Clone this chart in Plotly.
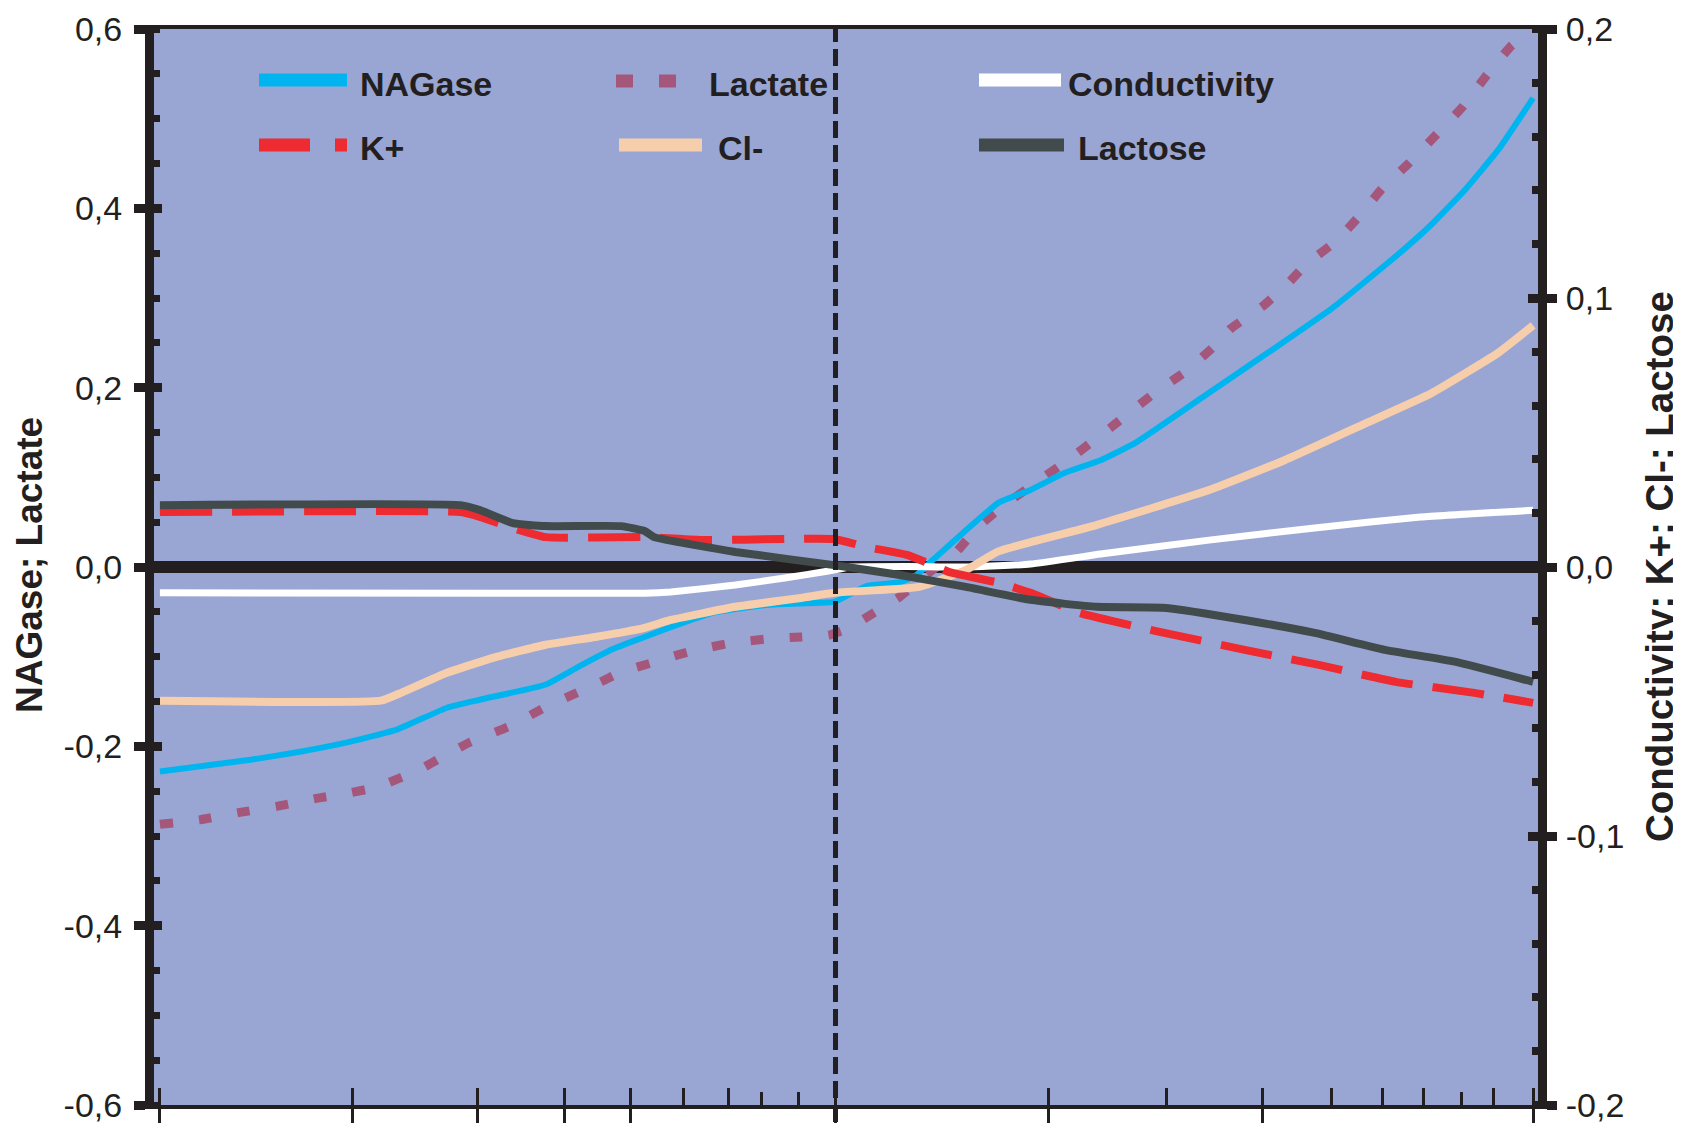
import plotly.graph_objects as go

# ---------------- data ----------------
# x position along the (unlabelled) horizontal axis, 0..100
nag_x = [0, 6.6, 10.2, 13.8, 17.3, 20.9, 23.3, 28.1, 30.5, 32.9, 35.3, 37.2, 40.3, 44.4, 48.0,
         49.1, 51.5, 53.9, 55.1, 56.3, 58.7, 61.1, 63.4, 65.9, 68.5, 71.1, 75.9, 80.6, 85.4,
         90.2, 92.6, 95.0, 97.5, 100]
nag_y = [-0.228, -0.215, -0.206, -0.195, -0.181, -0.157, -0.148, -0.131, -0.111, -0.092, -0.078,
         -0.067, -0.051, -0.042, -0.040, -0.039, -0.021, -0.017, -0.009, 0.008, 0.041, 0.072,
         0.086, 0.105, 0.119, 0.139, 0.189, 0.238, 0.289, 0.349, 0.382, 0.420, 0.466, 0.523]

lac_x = [0, 2.9, 5.7, 8.5, 11.4, 13.8, 15.9, 18.9, 20.9, 22.5, 25.4, 28.0, 30.4, 32.4, 33.6,
         36.0, 38.4, 41.5, 44.4, 46.7, 48.7, 50.2, 52.0, 53.9, 55.6, 58.0, 59.6, 61.3, 63.7,
         66.1, 69.2, 71.0, 72.5, 74.6, 76.7, 78.0, 80.4, 82.2, 83.5, 85.7, 87.5, 89.0, 91.0,
         93.0, 94.8, 96.6, 98.4, 100]
lac_y = [-0.287, -0.282, -0.274, -0.267, -0.258, -0.252, -0.245, -0.226, -0.209, -0.196, -0.178,
         -0.157, -0.140, -0.126, -0.117, -0.106, -0.095, -0.085, -0.080, -0.078, -0.076, -0.068,
         -0.051, -0.033, -0.011, 0.017, 0.045, 0.067, 0.093, 0.119, 0.155, 0.177, 0.195, 0.217,
         0.245, 0.266, 0.292, 0.317, 0.338, 0.364, 0.394, 0.422, 0.451, 0.483, 0.512, 0.548,
         0.581, 0.600]

con_x = [0, 35.3, 37.2, 41.9, 45.5, 48.7, 50.3, 54.4, 58.7, 63.4, 68.5, 76.4, 84.1, 91.8, 100]
con_y = [-0.0096, -0.0098, -0.0093, -0.0067, -0.0041, -0.0015, 0.0, 0.0002, 0.0, 0.0011,
         0.0048, 0.0100, 0.0145, 0.0186, 0.0211]

cl_x = [0, 16.1, 17.6, 20.9, 24.5, 28.1, 31.7, 35.3, 37.2, 41.9, 46.7, 49.1, 55.3, 58.7, 61.1,
        68.2, 76.4, 81.9, 87.8, 92.6, 97.4, 100]
cl_y = [-0.0497, -0.0497, -0.0467, -0.0393, -0.0334, -0.0289, -0.0260, -0.0226, -0.0197,
        -0.0148, -0.0115, -0.0096, -0.0074, -0.0011, 0.0059, 0.0156, 0.0286, 0.0397, 0.0534,
        0.0646, 0.0794, 0.0898]

k_x = [0, 21.9, 23.3, 25.7, 28.1, 35.3, 39.6, 45.5, 49.1, 51.5, 54.4, 56.3, 57.5, 61.1, 63.4,
       67.0, 72.8, 79.0, 84.4, 90.0, 95.6, 100]
k_y = [0.0204, 0.0204, 0.0186, 0.0145, 0.0111, 0.0111, 0.0100, 0.0104, 0.0104, 0.0074, 0.0045,
       0.0007, -0.0019, -0.0059, -0.0096, -0.0171, -0.0241, -0.0308, -0.0364, -0.0427, -0.0467,
       -0.0505]

lcs_x = [0, 21.9, 23.3, 25.7, 28.1, 33.6, 35.3, 36.0, 41.9, 49.1, 53.9, 58.7, 63.4, 68.2, 73.3,
         79.0, 84.1, 89.2, 94.3, 100]
lcs_y = [0.0230, 0.0230, 0.0212, 0.0163, 0.0152, 0.0152, 0.0134, 0.0111, 0.0056, 0.0007,
         -0.0030, -0.0074, -0.0122, -0.0148, -0.0152, -0.0197, -0.0245, -0.0308, -0.0352, -0.0427]

# axis ticks
left_tickvals = [-0.6, -0.4, -0.2, 0.0, 0.2, 0.4, 0.6]
left_ticktext = ["-0,6", "-0,4", "-0,2", "0,0", "0,2", "0,4", "0,6"]
right_tickvals = [-0.2, -0.1, 0.0, 0.1, 0.2]
right_ticktext = ["-0,2", "-0,1", "0,0", "0,1", "0,2"]
x_major = [0, 14.0, 23.1, 29.5, 34.3, 49.2, 64.7, 80.3, 100]
x_long = [38.1, 41.4, 73.3, 85.3, 89.0, 92.0, 97.1]
x_short = [43.8, 46.5, 94.8]
ref_x = 49.2

series_names = ["NAGase", "Lactate", "Conductivity", "K+", "Cl-", "Lactose"]
left_title = "NAGase; Lactate"
right_title = "Conductivity; K+; Cl-; Lactose"

# ---------------- style / layout ----------------
OFF = 8                      # default body margin of the html page
W, H = 1681 - OFF, 1127 - OFF
# plot area in page pixels (inside the axis lines)
PL, PR, PT, PB = 154, 1538, 29, 1105
L, R, T, B = PL - OFF, PR - OFF, PT - OFF, PB - OFF
# x = 0 and x = 100 sit under the thick vertical axis lines
X0_PX, X100_PX = 148, 1543
ppu = (X100_PX - X0_PX) / 100.0
x_range = [-(PL - X0_PX) / ppu, 100 + (X100_PX - PR) / ppu]

AX = "#231F20"
BG = "#99A6D4"
C_NAG, C_LAC, C_CON = "#00B5EF", "#A5577B", "#FFFFFF"
C_K, C_CL, C_LCS = "#ED2B30", "#F6CEAB", "#424B4B"
SANS = "Liberation Sans, Arial, sans-serif"


def xp(px):
    return (px - PL) / (PR - PL)


def yp(py):
    return (PB - py) / (PB - PT)


fig = go.Figure()


def add(x, y, name, color, width, dash, axis):
    fig.add_trace(go.Scatter(x=x, y=y, name=name, mode="lines", yaxis=axis,
                             line=dict(color=color, width=width, dash=dash,
                                       shape="spline", smoothing=0.4),
                             showlegend=False, hoverinfo="skip"))


add(lac_x, lac_y, series_names[1], C_LAC, 9, "13px,26px", "y")
add(nag_x, nag_y, series_names[0], C_NAG, 6, "solid", "y")
add(con_x, con_y, series_names[2], C_CON, 7, "solid", "y2")
add(cl_x, cl_y, series_names[4], C_CL, 8, "solid", "y2")
add(k_x, k_y, series_names[3], C_K, 8, "52px,20px", "y2")
add(lcs_x, lcs_y, series_names[5], C_LCS, 8, "solid", "y2")

# invisible carriers so that the tick-only overlay axes are drawn
fig.add_trace(go.Scatter(x=[ref_x], y=[0], xaxis="x2", yaxis="y3", mode="markers",
                         marker=dict(opacity=0), showlegend=False, hoverinfo="skip"))
fig.add_trace(go.Scatter(x=[ref_x], y=[0], xaxis="x", yaxis="y4", mode="markers",
                         marker=dict(opacity=0), showlegend=False, hoverinfo="skip"))

tickfont = dict(family=SANS, size=34, color=AX)

fig.update_layout(
    width=W, height=H,
    margin=dict(l=L, r=W - R, t=T, b=H - B, pad=0, autoexpand=False),
    paper_bgcolor="white", plot_bgcolor=BG,
    showlegend=False,
    xaxis=dict(domain=[0, 1], range=x_range, showline=True, linecolor=AX, linewidth=4,
               mirror=True, ticks="outside", tickmode="array", tickvals=x_major,
               ticklen=14, tickwidth=3, tickcolor=AX, showticklabels=False,
               showgrid=False, zeroline=False, automargin=False),
    xaxis2=dict(overlaying="x", anchor="y", side="bottom", range=x_range,
                ticks="inside", tickmode="array", tickvals=x_major + x_long,
                ticklen=17, tickwidth=3, tickcolor=AX,
                minor=dict(ticks="inside", tickmode="array", tickvals=x_short,
                           ticklen=13, tickwidth=3, tickcolor=AX, showgrid=False),
                showline=False, showticklabels=False, showgrid=False, zeroline=False,
                automargin=False),
    yaxis=dict(range=[-0.6, 0.6], tickmode="array", tickvals=left_tickvals,
               ticktext=left_ticktext, ticks="outside", ticklen=11, tickwidth=9,
               tickcolor=AX, tickfont=tickfont, ticklabelstandoff=5,
               minor=dict(ticks="inside", dtick=0.05, tick0=0, ticklen=6, tickwidth=7,
                          tickcolor=AX, showgrid=False),
               showline=True, linecolor=AX, linewidth=9, showgrid=False,
               zeroline=True, zerolinecolor=AX, zerolinewidth=12, automargin=False),
    yaxis3=dict(overlaying="y", anchor="x2", side="left", range=[-0.6, 0.6],
                tickmode="array", tickvals=left_tickvals, ticks="inside", ticklen=8,
                tickwidth=9, tickcolor=AX, showticklabels=False, showline=False,
                showgrid=False, zeroline=False, automargin=False),
    yaxis2=dict(overlaying="y", anchor="x", side="right", range=[-0.2, 0.2],
                tickmode="array", tickvals=right_tickvals, ticktext=right_ticktext,
                ticks="outside", ticklen=10, tickwidth=9, tickcolor=AX, tickfont=tickfont,
                ticklabelstandoff=2,
                minor=dict(ticks="inside", dtick=0.02, tick0=0, ticklen=6, tickwidth=8,
                           tickcolor=AX, showgrid=False),
                showline=True, linecolor=AX, linewidth=9, showgrid=False,
                zeroline=False, automargin=False),
    yaxis4=dict(overlaying="y", anchor="x", side="right", range=[-0.2, 0.2],
                tickmode="array", tickvals=right_tickvals, ticks="inside", ticklen=10,
                tickwidth=9, tickcolor=AX, showticklabels=False, showline=False,
                showgrid=False, zeroline=False, automargin=False),
)

# vertical dashed reference line
fig.add_shape(type="line", xref="x", yref="paper", x0=ref_x, x1=ref_x,
              y0=yp(1122), y1=1, layer="above",
              line=dict(color=AX, width=5, dash="17px,7px"))

# axis titles
fig.add_annotation(text=left_title, xref="paper", yref="paper", x=xp(29), y=yp(565),
                   textangle=-90, showarrow=False, xanchor="center", yanchor="middle",
                   font=dict(family=SANS, size=37, color=AX, weight="bold"))
fig.add_annotation(text=right_title, xref="paper", yref="paper", x=xp(1659), y=yp(567),
                   textangle=-90, showarrow=False, xanchor="center", yanchor="middle",
                   font=dict(family=SANS, size=38.5, color=AX, weight="bold"))

# legend drawn inside the plot (page-pixel placement)
legend_items = [
    # name, color, dash, x0, x1, line_y, text_x, text_y
    (series_names[0], C_NAG, "solid", 259, 347, 80, 358, 84),
    (series_names[3], C_K, "51px,25px", 259, 347, 145, 358, 148),
    (series_names[1], C_LAC, "17px,26px", 616, 676, 81, 707, 84),
    (series_names[4], C_CL, "solid", 619, 702, 145, 716, 148),
    (series_names[2], C_CON, "solid", 979, 1061, 80, 1066, 84),
    (series_names[5], C_LCS, "solid", 979, 1064, 145, 1076, 148),
]
for name, color, dash, x0, x1, ly, tx, ty in legend_items:
    fig.add_shape(type="line", xref="paper", yref="paper", x0=xp(x0), x1=xp(x1),
                  y0=yp(ly), y1=yp(ly), layer="above",
                  line=dict(color=color, width=13, dash=dash))
    fig.add_annotation(text=name, xref="paper", yref="paper", x=xp(tx), y=yp(ty),
                       showarrow=False, xanchor="left", yanchor="middle",
                       font=dict(family=SANS, size=34, color=AX, weight="bold"))

fig.write_html("out.html")
